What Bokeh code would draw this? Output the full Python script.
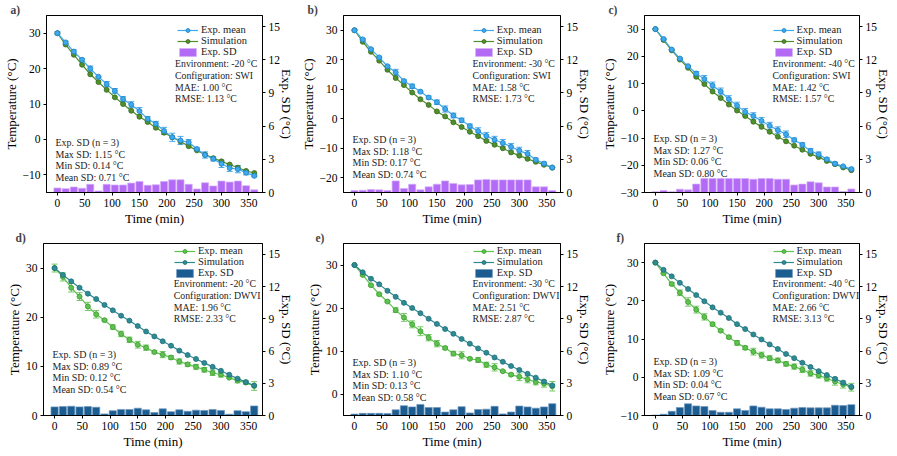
from bokeh.plotting import figure
from bokeh.layouts import row, column
from bokeh.models import (ColumnDataSource, Range1d, LinearAxis, Whisker, TeeHead,
                          Legend, LegendItem, Label, SingleIntervalTicker)
from bokeh.embed import file_html
from bokeh.resources import INLINE

# ---------------- data ----------------
time_min = [0, 15, 30, 45, 60, 75, 90, 105, 120, 135, 150, 165, 180,
            195, 210, 225, 240, 255, 270, 285, 300, 315, 330, 345, 360]

a_exp_mean = [30.0, 27.4, 24.8, 22.5, 20.0, 17.7, 15.6, 13.7, 11.4, 9.8, 8.0, 5.8, 4.4,
              2.4, 0.6, -0.3, -0.8, -2.7, -4.4, -5.5, -6.9, -8.1, -8.4, -9.4, -10.3]
a_simulation = [30.0, 26.8, 23.9, 21.1, 18.4, 16.2, 14.0, 11.9, 10.0, 8.1, 6.4, 4.9, 3.3,
                1.9, 0.6, -0.6, -1.9, -3.1, -4.3, -5.3, -6.2, -7.1, -8.0, -8.9, -9.5]
a_exp_sd = [0.41, 0.35, 0.50, 0.38, 0.74, 0.14, 0.74, 0.68, 0.68, 0.85, 1.00, 0.65, 0.70,
            1.00, 1.15, 1.15, 0.74, 0.32, 0.88, 0.59, 1.03, 0.94, 1.03, 0.62, 0.24]

b_exp_mean = [30.0, 26.9, 23.6, 20.8, 17.8, 15.7, 12.8, 11.0, 9.2, 7.2, 5.6, 3.3, 1.1,
              -0.5, -2.5, -4.2, -5.8, -7.1, -8.2, -9.5, -10.8, -11.9, -13.9, -15.2, -16.5]
b_simulation = [30.0, 26.1, 22.7, 19.7, 16.6, 13.8, 11.4, 8.9, 6.6, 4.7, 2.5, 0.8, -1.2,
                -2.8, -4.4, -5.9, -7.5, -8.8, -10.0, -11.4, -12.5, -13.6, -14.6, -15.6, -16.6]
b_exp_sd = [0.17, 0.20, 0.27, 0.24, 0.17, 1.05, 0.36, 0.75, 0.24, 0.51, 0.75, 1.05, 0.81,
            0.69, 0.72, 1.14, 1.18, 1.14, 1.14, 1.14, 1.14, 1.14, 0.51, 0.51, 0.18]

c_exp_mean = [30.0, 26.4, 22.5, 19.2, 16.4, 13.7, 11.7, 9.3, 7.1, 4.3, 1.9, -0.4, -1.9,
              -3.7, -5.5, -7.1, -8.6, -10.7, -12.5, -14.8, -16.0, -17.8, -19.4, -20.4, -21.4]
c_simulation = [30.0, 26.0, 22.2, 18.8, 15.8, 12.5, 9.8, 7.1, 4.7, 2.3, 0.1, -1.9, -4.0,
                -5.9, -7.7, -9.5, -11.2, -12.8, -14.3, -15.8, -17.0, -18.4, -19.6, -20.8, -21.8]
c_exp_sd = [0.06, 0.18, 0.06, 0.30, 0.24, 0.76, 1.27, 1.26, 1.26, 1.26, 1.26, 1.26, 1.20,
            1.26, 1.26, 1.20, 1.20, 0.68, 0.76, 0.97, 0.88, 0.50, 0.50, 0.09, 0.32]

d_exp_mean = [30.0, 28.2, 26.0, 24.2, 22.2, 20.6, 19.4, 18.0, 16.6, 15.4, 14.4, 13.8, 12.9,
              12.4, 11.8, 11.0, 10.4, 9.9, 9.3, 8.7, 8.3, 7.7, 7.1, 6.7, 6.0]
d_simulation = [30.0, 28.6, 27.3, 26.0, 24.8, 23.7, 22.5, 21.4, 20.3, 19.3, 18.2, 17.1, 16.1,
                15.1, 14.2, 13.2, 12.3, 11.5, 10.7, 9.9, 9.1, 8.3, 7.5, 6.8, 6.1]
d_exp_sd = [0.80, 0.83, 0.86, 0.80, 0.83, 0.77, 0.15, 0.45, 0.56, 0.56, 0.68, 0.53, 0.27,
            0.62, 0.36, 0.53, 0.39, 0.50, 0.47, 0.56, 0.47, 0.12, 0.45, 0.36, 0.89]

e_exp_mean = [30.0, 27.7, 25.3, 23.2, 21.5, 19.5, 17.8, 16.2, 14.6, 13.1, 11.7, 10.7, 9.4,
              9.0, 8.2, 7.9, 6.8, 6.2, 5.3, 4.5, 4.0, 3.4, 2.8, 2.4, 1.8]
e_simulation = [30.0, 28.3, 26.8, 25.5, 24.0, 22.6, 21.2, 20.0, 18.8, 17.5, 16.3, 15.1, 14.0,
                12.8, 11.7, 10.6, 9.6, 8.5, 7.5, 6.5, 5.6, 4.7, 3.8, 2.9, 2.0]
e_exp_sd = [0.13, 0.20, 0.20, 0.20, 0.18, 0.53, 0.91, 0.80, 1.03, 0.74, 0.74, 0.32, 0.53,
            0.82, 0.24, 0.56, 0.59, 0.85, 0.15, 0.32, 0.88, 0.80, 0.68, 0.80, 1.10]

f_exp_mean = [30.0, 27.2, 24.4, 22.1, 19.7, 17.7, 15.8, 13.9, 12.2, 10.5, 9.0, 7.7, 6.7,
              5.8, 5.0, 4.4, 3.5, 2.8, 2.0, 1.0, 0.5, -0.3, -1.1, -1.9, -2.6]
f_simulation = [30.0, 28.1, 26.4, 24.7, 23.1, 21.5, 19.9, 18.3, 16.9, 15.5, 13.9, 12.6, 11.2,
                9.9, 8.6, 7.4, 6.1, 5.0, 3.8, 2.7, 1.6, 0.6, -0.4, -1.4, -2.5]
f_exp_sd = [0.04, 0.12, 0.39, 0.74, 1.09, 0.89, 0.83, 0.47, 0.30, 0.30, 0.62, 0.47, 0.89,
            0.77, 0.62, 0.62, 0.56, 0.68, 0.74, 0.71, 0.71, 0.71, 0.95, 0.92, 1.01]

panel_letters = ["a)", "b)", "c)", "d)", "e)", "f)"]
environments = ["-20 °C", "-30 °C", "-40 °C", "-20 °C", "-30 °C", "-40 °C"]
configurations = ["SWI", "SWI", "SWI", "DWVI", "DWVI", "DWVI"]
mae_values = ["1.00", "1.58", "1.42", "1.96", "2.51", "2.66"]
rmse_values = ["1.13", "1.73", "1.57", "2.33", "2.87", "3.13"]
max_sd = ["1.15", "1.18", "1.27", "0.89", "1.10", "1.09"]
min_sd = ["0.14", "0.17", "0.06", "0.12", "0.13", "0.04"]
mean_sd = ["0.71", "0.74", "0.80", "0.54", "0.58", "0.67"]
y_limits = [(-15, 35), (-25, 35), (-30, 35), (0, 35), (-5, 35), (-10, 35)]

# ---------------- styles / layout ----------------
FONT = "Liberation Serif"
STYLE = {
    "SWI": dict(mean="#3eaaee", mean_edge="#1f80c4", err="#2f9be4",
                sim="#4f8f2c", sim_edge="#3a6b1c", bar="#b36af5", bar_edge="#d2adfa"),
    "DWVI": dict(mean="#5ec24e", mean_edge="#3d9a31", err="#5cc04a",
                 sim="#2e8b94", sim_edge="#206e78", bar="#1b5c91", bar_edge="#6f97bf"),
}
COL_W = [297, 298, 299]
COL_LEFT = [43, 46, 49]
B_RIGHT = 34
TEXT_X_DATA = 215          # left edge of the upper-right text block, in minutes
stats_offset = [15, 18, 19, 26, 18, 19]


def style_axis(ax, label_standoff=1):
    ax.axis_line_color = "black"
    ax.major_tick_line_color = "black"
    ax.major_tick_in = 0
    ax.major_tick_out = 3
    ax.minor_tick_line_color = None
    ax.major_label_text_font = FONT
    ax.major_label_text_font_size = "11.5px"
    ax.major_label_text_color = "black"
    ax.major_label_standoff = 2
    ax.axis_label_text_font = FONT
    ax.axis_label_text_font_size = "13px"
    ax.axis_label_text_font_style = "normal"
    ax.axis_label_text_color = "black"
    ax.axis_label_standoff = label_standoff


def make_panel(i, exp_mean, sim, sd, top_row):
    cfg = configurations[i]
    st = STYLE[cfg]
    col = i % 3
    W = COL_W[col]
    bl = COL_LEFT[col]
    FW = W - bl - B_RIGHT
    H = 229 if top_row else 225
    b_top = 15 if top_row else 10
    b_bot = 37 if top_row else 39
    fh = H - b_top - b_bot
    ylo, yhi = y_limits[i]
    p = figure(width=W, height=H,
               x_range=Range1d(-20, 375), y_range=Range1d(ylo, yhi),
               output_backend="svg", toolbar_location=None,
               min_border_left=bl, min_border_right=B_RIGHT,
               min_border_top=b_top, min_border_bottom=b_bot)
    p.title.text = panel_letters[i]
    p.title.align = "left"
    p.title.offset = -36 if top_row else -28
    p.title.standoff = 0
    p.title.text_font = FONT
    p.title.text_font_size = "11.5px"
    p.title.text_font_style = "bold"
    p.title.text_line_height = 0.8
    p.background_fill_color = "white"
    p.border_fill_color = "white"
    p.outline_line_color = "black"
    p.outline_line_width = 1
    p.xgrid.visible = False
    p.ygrid.visible = False
    p.extra_y_ranges = {"sd": Range1d(0, 16)}

    src = ColumnDataSource(dict(
        t=time_min, mean=exp_mean, sim=sim, sd=sd,
        lo=[m - s for m, s in zip(exp_mean, sd)],
        hi=[m + s for m, s in zip(exp_mean, sd)],
    ))

    bars = p.vbar(x="t", top="sd", bottom=0, width=13, source=src,
                  y_range_name="sd", fill_color=st["bar"],
                  line_color=st["bar_edge"], line_width=0.7)

    whisk = Whisker(base="t", lower="lo", upper="hi", source=src,
                    line_color=st["err"], line_width=1, line_alpha=0.85,
                    lower_head=TeeHead(size=6, line_color=st["err"], line_width=1, line_alpha=0.85),
                    upper_head=TeeHead(size=6, line_color=st["err"], line_width=1, line_alpha=0.85))
    p.add_layout(whisk)

    def draw(colname, c, edge):
        ln = p.line("t", colname, source=src, line_color=c, line_width=1.2)
        sc = p.scatter("t", colname, source=src, size=5, fill_color=c,
                       line_color=edge, line_width=0.8)
        return ln, sc

    if cfg == "SWI":
        l_sim, s_sim = draw("sim", st["sim"], st["sim_edge"])
        l_mean, s_mean = draw("mean", st["mean"], st["mean_edge"])
    else:
        l_mean, s_mean = draw("mean", st["mean"], st["mean_edge"])
        l_sim, s_sim = draw("sim", st["sim"], st["sim_edge"])

    style_axis(p.xaxis[0])
    style_axis(p.yaxis[0])
    p.xaxis[0].ticker = SingleIntervalTicker(interval=50)
    p.xaxis[0].axis_label = "Time (min)"
    p.yaxis[0].ticker = SingleIntervalTicker(interval=10)
    p.yaxis[0].axis_label = "Temperature (°C)"

    rax = LinearAxis(y_range_name="sd", axis_label="Exp. SD (°C)",
                     ticker=SingleIntervalTicker(interval=3))
    style_axis(rax, label_standoff=-4)
    p.add_layout(rax, "right")

    # legend (its left edge matches the text block below it)
    x0, x1 = -20, 375
    text_x_px = (TEXT_X_DATA - x0) / (x1 - x0) * FW
    leg_top = 6 if top_row else 3
    leg_h = 36
    legend = Legend(items=[
        LegendItem(label="Exp. mean", renderers=[l_mean, s_mean]),
        LegendItem(label="Simulation", renderers=[l_sim, s_sim]),
        LegendItem(label="Exp. SD", renderers=[bars]),
    ], location=(text_x_px, fh - leg_top - leg_h))
    legend.background_fill_alpha = 0
    legend.border_line_color = None
    legend.padding = 0
    legend.margin = 0
    legend.spacing = 0
    legend.glyph_width = 21
    legend.glyph_height = 10
    legend.label_height = 10
    legend.label_standoff = 3
    legend.label_text_font = FONT
    legend.label_text_font_size = "10.5px"
    legend.label_text_color = "#222222"
    p.add_layout(legend)

    # text blocks
    env_lines = ["Environment: " + environments[i],
                 "Configuration: " + cfg,
                 "MAE: " + mae_values[i] + " °C",
                 "RMSE: " + rmse_values[i] + " °C"]
    first = 48 if top_row else 44
    for k, txt in enumerate(env_lines):
        p.add_layout(Label(x=TEXT_X_DATA, y=fh - first - k * 11.8, x_units="data", y_units="screen",
                           text=txt, text_font=FONT, text_font_size="9.8px",
                           text_color="#222222", text_baseline="middle"))
    stat_lines = ["Exp. SD (n = 3)",
                  "Max SD: " + max_sd[i] + " °C",
                  "Min SD: " + min_sd[i] + " °C",
                  "Mean SD: " + mean_sd[i] + " °C"]
    base = stats_offset[i]
    for k, txt in enumerate(stat_lines):
        p.add_layout(Label(x=9, y=base + (3 - k) * 11.6, x_units="screen", y_units="screen",
                           text=txt, text_font=FONT, text_font_size="10px",
                           text_color="#222222", text_baseline="middle"))
    return p


pa = make_panel(0, a_exp_mean, a_simulation, a_exp_sd, True)
pb = make_panel(1, b_exp_mean, b_simulation, b_exp_sd, True)
pc = make_panel(2, c_exp_mean, c_simulation, c_exp_sd, True)
pd_ = make_panel(3, d_exp_mean, d_simulation, d_exp_sd, False)
pe = make_panel(4, e_exp_mean, e_simulation, e_exp_sd, False)
pf = make_panel(5, f_exp_mean, f_simulation, f_exp_sd, False)

layout = column(row(pa, pb, pc), row(pd_, pe, pf))
open("out.html", "w").write(file_html(layout, INLINE))
